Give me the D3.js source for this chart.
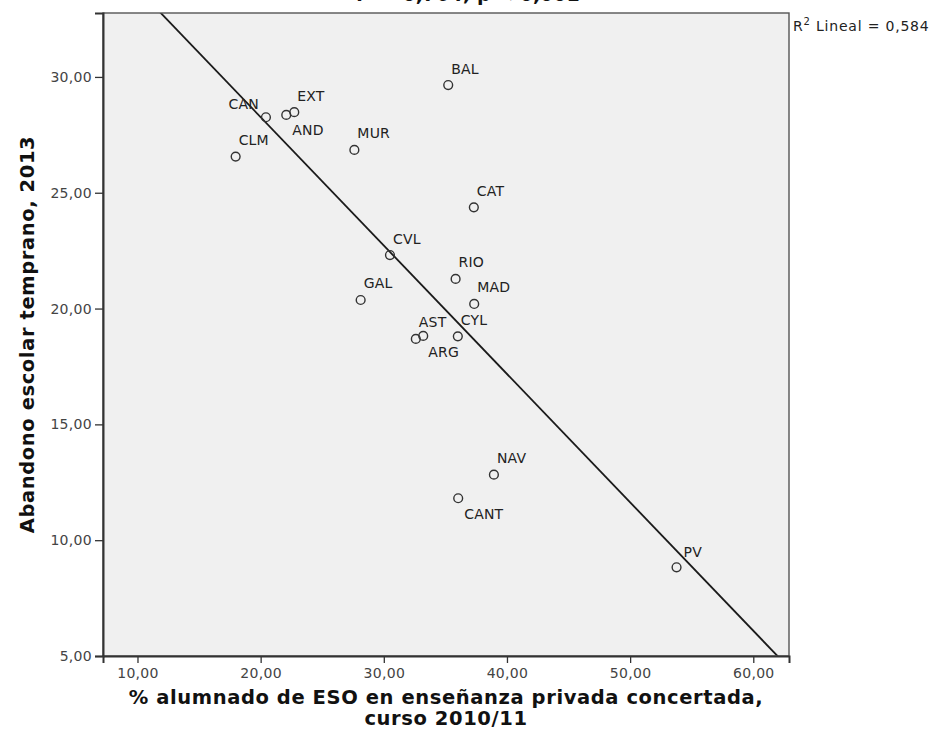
<!DOCTYPE html>
<html>
<head>
<meta charset="utf-8">
<script src="https://cdn.jsdelivr.net/npm/d3@7/dist/d3.min.js"></script>
<style>
  html, body { margin: 0; padding: 0; background: #ffffff; }
  svg { display: block; font-family: "DejaVu Sans", Verdana, sans-serif; }
</style>
</head>
<body>
<svg id="chart" width="932" height="742"></svg>
<script>
// Comunidades autónomas
const regions = ["CAN", "AND", "EXT", "CLM", "MUR", "BAL", "CAT", "CVL", "RIO",
                 "GAL", "MAD", "AST", "ARG", "CYL", "NAV", "CANT", "PV"];
// % alumnado de ESO en enseñanza privada concertada, curso 2010/11
const concertada = [20.43, 22.08, 22.73, 17.97, 27.61, 35.23, 37.31, 30.50, 35.83,
                    28.12, 37.34, 32.60, 33.20, 36.01, 38.94, 36.04, 53.77];
// Abandono escolar temprano, 2013
const abandono = [28.26, 28.36, 28.48, 26.56, 26.85, 29.65, 24.37, 22.31, 21.28,
                  20.37, 20.20, 18.69, 18.82, 18.80, 12.83, 11.81, 8.83];
const xTicks = [10, 20, 30, 40, 50, 60];
const yTicks = [5, 10, 15, 20, 25, 30];
const r2Text = "0,584";

const svg = d3.select("#chart");
const plot = { left: 103, right: 789, top: 13, bottom: 656 };

const x = d3.scaleLinear().domain([7.2, 62.9]).range([plot.left, plot.right]);
const y = d3.scaleLinear().domain([5, 32.76]).range([plot.bottom, plot.top]);
const fmt = d => d.toFixed(2).replace(".", ",");

// Heading above the frame, mostly outside the canvas
svg.append("text")
  .attr("x", 468).attr("y", 1)
  .attr("text-anchor", "middle")
  .attr("font-size", 19).attr("font-weight", "bold").attr("fill", "#111")
  .text("r = -0,764; p < 0,001");

// Plot background
svg.append("rect")
  .attr("x", plot.left).attr("y", plot.top)
  .attr("width", plot.right - plot.left).attr("height", plot.bottom - plot.top)
  .attr("fill", "#f0f0f0");

svg.append("clipPath").attr("id", "plotClip")
  .append("rect")
  .attr("x", plot.left).attr("y", plot.top)
  .attr("width", plot.right - plot.left).attr("height", plot.bottom - plot.top);

// Least-squares fit line
const pts = regions.map((r, i) => ({ name: r, x: concertada[i], y: abandono[i] }));
const mx = d3.mean(pts, d => d.x), my = d3.mean(pts, d => d.y);
const slope = d3.sum(pts, d => (d.x - mx) * (d.y - my)) / d3.sum(pts, d => (d.x - mx) ** 2);
const intercept = my - slope * mx;
const [x0, x1] = x.domain();
svg.append("line")
  .attr("clip-path", "url(#plotClip)")
  .attr("x1", x(x0)).attr("y1", y(intercept + slope * x0))
  .attr("x2", x(x1)).attr("y2", y(intercept + slope * x1))
  .attr("stroke", "#1a1a1a").attr("stroke-width", 1.8);

// Frame
svg.append("rect")
  .attr("x", plot.left).attr("y", plot.top)
  .attr("width", plot.right - plot.left).attr("height", plot.bottom - plot.top)
  .attr("fill", "none").attr("stroke", "#555").attr("stroke-width", 1.4);

// Axes
const yAxis = svg.append("g")
  .attr("transform", `translate(${plot.left},0)`)
  .call(d3.axisLeft(y).tickValues(yTicks).tickFormat(fmt).tickSize(8).tickPadding(3));
const xAxis = svg.append("g")
  .attr("transform", `translate(0,${plot.bottom})`)
  .call(d3.axisBottom(x).tickValues(xTicks).tickFormat(fmt).tickSize(7).tickPadding(5));
[yAxis, xAxis].forEach(g => {
  g.select(".domain").attr("stroke", "#333").attr("stroke-width", 2);
  g.selectAll(".tick line").attr("stroke", "#333").attr("stroke-width", 1.3);
  g.selectAll(".tick text").attr("font-size", 14).attr("fill", "#444")
    .attr("letter-spacing", 0.3)
    .attr("font-family", "DejaVu Sans, sans-serif");
});

// Points
svg.append("g").selectAll("circle")
  .data(pts).join("circle")
  .attr("cx", d => x(d.x)).attr("cy", d => y(d.y))
  .attr("r", 4.4)
  .attr("fill", "none").attr("stroke", "#333").attr("stroke-width", 1.4);

// Point labels: default above-right, a few below-right or to the left
const labelPlacement = {
  AND: { dx: 6, dy: 20, anchor: "start" },
  ARG: { dx: 5, dy: 21, anchor: "start" },
  CANT: { dx: 6, dy: 21, anchor: "start" },
  CAN: { dx: -7, dy: -8, anchor: "end" },
  PV: { dx: 7, dy: -10.5, anchor: "start" }
};
svg.append("g").selectAll("text")
  .data(pts).join("text")
  .each(function (d) {
    const p = labelPlacement[d.name] || { dx: 3, dy: -11.5, anchor: "start" };
    d3.select(this)
      .attr("x", x(d.x) + p.dx).attr("y", y(d.y) + p.dy)
      .attr("text-anchor", p.anchor);
  })
  .attr("font-size", 14).attr("letter-spacing", 0.2).attr("fill", "#222")
  .text(d => d.name);

// R² annotation
const r2 = svg.append("text").attr("x", 793).attr("y", 31)
  .attr("font-size", 14).attr("letter-spacing", 0.8).attr("fill", "#222");
r2.append("tspan").text("R");
r2.append("tspan").attr("dy", -6).attr("font-size", 10).text("2");
r2.append("tspan").attr("dy", 6).text(" Lineal = " + r2Text);

// Axis titles
svg.append("text")
  .attr("transform", `translate(34,${(plot.top + plot.bottom) / 2}) rotate(-90)`)
  .attr("text-anchor", "middle")
  .attr("font-size", 19.5).attr("font-weight", "bold").attr("fill", "#111")
  .attr("letter-spacing", 0.6)
  .text("Abandono escolar temprano, 2013");

const xTitle = svg.append("text")
  .attr("text-anchor", "middle")
  .attr("font-size", 19.5).attr("font-weight", "bold").attr("fill", "#111")
  .attr("letter-spacing", 0.6);
xTitle.append("tspan").attr("x", 446).attr("y", 704)
  .text("% alumnado de ESO en enseñanza privada concertada,");
xTitle.append("tspan").attr("x", 446).attr("y", 725)
  .text("curso 2010/11");
</script>
</body>
</html>
